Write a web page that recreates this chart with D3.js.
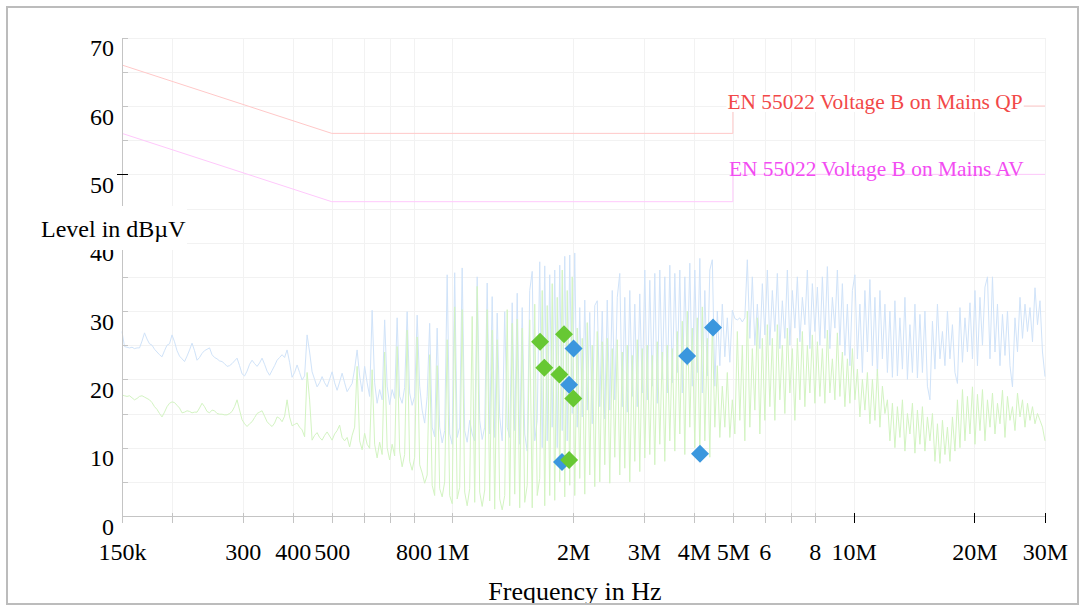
<!DOCTYPE html>
<html><head><meta charset="utf-8">
<script src="https://cdn.jsdelivr.net/npm/d3@7"></script>
<style>html,body{margin:0;padding:0;background:#fff;}svg{display:block;}</style>
</head><body>
<svg id="chart" width="1083" height="607"></svg>
<script>
// ---------- data ----------
const xTicks = [150e3,200e3,300e3,400e3,500e3,600e3,700e3,800e3,1e6,2e6,3e6,4e6,5e6,6e6,7e6,8e6,10e6,20e6,30e6];
const xTickLabels = ["150k","","300","400","500","","","800","1M","2M","3M","4M","5M","6","","8","10M","20M","30M"];
const xMajorTicks = [10e6,20e6,30e6];
const yTicks = [0,5,10,15,20,25,30,35,40,45,50,55,60,65,70];
const yMajorTick = 50;

// limit lines
const limitFreq = [150e3,500e3,5e6,5e6,30e6];
const qpLimit = [66,56,56,60,60];
const avLimit = [56,46,46,50,50];
const qpLabel = "EN 55022 Voltage B on Mains QP";
const avLabel = "EN 55022 Voltage B on Mains AV";

// scan (log-spaced receiver sweep)
const scanStart = 150e3, scanStop = 30e6;
const peakTrace = [
27,24.8,24.7,24.6,24.7,24.5,24.6,24.6,25.6,26.8,
25.9,25.2,25,24.4,24,23.6,23.3,24.2,25,25.2,
26.5,25.5,24.2,23.4,23,22.6,23.4,24.3,25.3,24.2,
22.8,23.2,23.8,24.2,24.4,24.6,23.6,23.2,23,22.7,
22.6,22.3,21.9,22,22.3,22.7,23.1,22,20.8,20.5,
21.2,22.2,22.8,22.3,21.9,22.4,23.1,22.2,21.2,20.6,
21.3,22,22.8,23.2,23.6,23.2,24.3,22.5,20.3,21,
22.1,21,19.9,20.5,26.5,24,21.1,20,18.9,19.5,
20.4,19.5,18.9,20,21.1,19.5,18.4,19.6,20.9,19.5,
18.2,18.8,19.4,21.5,24.3,20.5,18.2,21.9,19.5,17.5,
30.1,19.5,16.5,18.5,17,28.7,19,16.3,18.5,17.2,
29,17.5,16.5,18.8,29.9,18,16.2,17.5,29.4,19,
15.5,13.6,17.5,28.2,13,11.6,27.5,13,10.7,12.5,
35.3,12,10.5,35.6,11.5,13,36.3,12.5,10.8,14,
12,11,35,14,11.2,13,34.1,12,32.1,11.5,
29.7,14.5,11,29.9,13,11.5,31.2,12.5,32.6,10.5,
30.5,12,9.5,33,35.8,11,14,37.2,10,36.6,
11,35.3,13,36,10,36.7,12.5,38,11,38.2,
15,38.5,13,30.5,14.5,31.6,15.5,29.8,13.5,30.8,
31.5,16,30,14.2,31.6,15.5,33,17,32,35.5,
16,32,15.2,33,17.5,31,16,32.5,18,36,
17,34.5,19,35.5,16.5,36,20,35,18,36.7,
19.5,35.5,21,36,18,35,22,37,19,36,
21,37.7,18,33,20.5,36,37.5,19,30,22,
31,23.3,29,22.5,30.1,28.9,28.7,29,28.4,29,
37.5,26,35,25,31,24.5,34,26.5,36,25,
33,27,35.5,24.5,31.5,26,36,25,33,27.5,
35,25.5,32,28,36,24.5,34,27,33.5,25,
35,26,36.5,24.5,32,27.5,36,25,34,23.5,
31,22,33,35.3,23,31,21,33,24,34.6,
22,32,20.5,33,23,31,21,30,20.3,31.5,
20.5,29,21.5,32,20,28,21,31,20.2,29.5,
21,30,19,17,28.5,21.5,31,23,27,22,
30,23,28,21,19.4,30.5,22.5,29,24,31.2,
23,33,22,32,25,33.5,35,23,35,24,
31,22,29.5,23.5,30,22,18.9,29,24,32,
26,31,27,30.5,25.5,33.4,28,31.5,24,20.4
];
const avgTrace = [
17.7,17.6,17.5,17.6,17.3,17,17.2,17.5,17.6,17.4,
17.2,17,16.6,16,15.6,15,14.5,15.2,16,16.5,
16.7,16.6,16.2,15.8,15.1,15.2,15.4,15.3,15.1,15.2,
15.2,15.8,16.5,16,15.3,15.1,15.5,15.4,15,14.9,
14.9,14.8,14.8,15,15.3,16,17,15.5,14.1,13.5,
13.1,13.5,13.8,14.4,15,15.2,15.4,14.6,13.8,13.4,
13.1,13.6,14.5,14.3,13.8,14.6,17,14.5,13.2,13.4,
13.6,13,12.6,11.6,21,17,11.1,11.8,12.2,11.5,
11.1,11.8,12.3,11.7,11.1,12,12.5,13.3,11.5,11,
11.5,10.1,11.8,13,21.9,11,9.7,12.1,10.5,9.9,
21.4,10.5,8.5,10.8,9,24,10,8.2,10.5,8.8,
24.8,9.5,7.2,9,27.2,8,6.7,8.6,26.2,7.5,
6.3,4.8,6,23.6,4.5,3,22,4,2.8,5,
25.8,3,1.8,30.6,2.5,4.2,30.2,3.5,1.5,4,
29.2,2,33.6,3.5,1.4,3.8,30.2,2.2,27.2,1,
25.8,2.5,0.9,3,30.2,1.5,28.2,3.2,28.8,1.2,
27.5,2,4.5,28.7,1.2,31,3,5.5,33,1.5,
30.8,3,34,2.3,32,5,36,2.8,33,4.5,
35,3,27.5,5.5,26,3.2,28.3,6,25,4.3,
27,5,25.5,7.5,26,4.8,24.5,8.6,25.8,6,
24,7,25,5,23.5,8,25.8,6.5,24.5,8.5,
25,9,23.5,7.5,25.5,10.5,24,8,25,11,
24.5,9.5,27,12,28.5,9,30,13,27.5,10,
29,9,30.6,11,26,8.6,28,13,22,11.5,
19,13,21,11.5,17,12,27,14,25,11,
30,13,24.5,15.5,29,12,26,14,28,16,
26,14,28,17,25,15,27.5,18,24.5,14,
26,17,27,16,25,18,26.5,16.5,25.5,17.5,
24.5,16.5,27.2,18,23,17,26.8,17.5,24,16,
23,16.5,24.5,17,21.5,14.5,20,15.5,21,13.5,
20,14,21.5,13,19,15,17,11,16.5,10,
16,11.5,17,9.5,15,12,16.5,9.2,15.5,10.5,
16,9.5,14.5,11,15,8,13.5,7.7,14,9,
13,8,14.5,9.5,17,10,18.5,11,17.5,12,
18.9,10.5,17.8,12.5,18.5,11,17,13,18,12,
16.5,13.5,18.4,11.5,17.5,14,16,12.5,18,14.5,
17,13,16.5,14,16,13.5,15,14,13,11
];

// final measurement points
const qpPointFreq = [2.004e6,1.953e6,1.875e6,3.845e6,4.462e6,4.14e6];
const qpPointLevel = [24.5,19.2,7.9,23.4,27.6,9.1];
const avPointFreq = [1.653e6,1.897e6,1.694e6,1.847e6,2.001e6,1.953e6];
const avPointLevel = [25.5,26.6,21.7,20.7,17.2,8.2];

// ---------- drawing ----------
const FONT = '"Liberation Serif","Times New Roman",Times,serif';
const svg = d3.select("#chart");
const x = d3.scaleLog().domain([150e3,30e6]).range([122,1045]);
const y = d3.scaleLinear().domain([0,70]).range([516,37.7]);
const px = v => Math.round(v) + 0.5;

// grid
const grid = svg.append("g").attr("shape-rendering","crispEdges");
grid.selectAll("line.v").data(xTicks).join("line").attr("class","v")
  .attr("x1",d=>px(x(d))).attr("x2",d=>px(x(d)))
  .attr("y1",y(70)).attr("y2",y(0)).attr("stroke","#f2f2f2");
grid.selectAll("line.h").data(yTicks).join("line").attr("class","h")
  .attr("x1",x(150e3)).attr("x2",x(30e6))
  .attr("y1",d=>px(y(d))).attr("y2",d=>px(y(d))).attr("stroke","#f2f2f2");

// limit lines
const limLine = d3.line().x((d,i)=>x(limitFreq[i])).y(d=>y(d));
svg.append("path").datum(qpLimit).attr("d",limLine).attr("fill","none").attr("stroke","#ffc8c8").attr("stroke-width",1);
svg.append("path").datum(avLimit).attr("d",limLine).attr("fill","none").attr("stroke","#ffc8fc").attr("stroke-width",1);

// traces
const scanFreq = d3.range(peakTrace.length).map(i => scanStart*Math.pow(scanStop/scanStart, i/(peakTrace.length-1)));
const traceLine = d3.line().x((d,i)=>x(scanFreq[i])).y(d=>y(d));
svg.append("path").datum(peakTrace).attr("d",traceLine).attr("fill","none").attr("stroke","#d0e3f9").attr("stroke-width",1);
svg.append("path").datum(avgTrace).attr("d",traceLine).attr("fill","none").attr("stroke","#d3f4c2").attr("stroke-width",1);

// limit labels
const qpT = svg.append("text").attr("x",727.5).attr("y",109).attr("font-family",FONT).attr("font-size",21.4)
  .attr("fill","#f24848").text(qpLabel);
const bb = qpT.node().getBBox();
svg.insert("rect", () => qpT.node()).attr("x",bb.x-1).attr("y",bb.y+2).attr("width",bb.width+2).attr("height",bb.height-4).attr("fill","#fff");
svg.append("text").attr("x",729).attr("y",175.5).attr("font-family",FONT).attr("font-size",21.4)
  .attr("fill","#f24cf2").text(avLabel);

// x axis
const xAxisG = svg.append("g").attr("transform",`translate(0,${px(y(0))-0.5})`);
xAxisG.append("line").attr("x1",x(150e3)).attr("x2",x(30e6)).attr("y1",0.5).attr("y2",0.5)
  .attr("stroke","#c4c4c4").attr("shape-rendering","crispEdges");
xAxisG.call(d3.axisBottom(x).tickValues(xTicks).tickFormat((d,i)=>xTickLabels[i]).tickSizeOuter(0))
  .call(g=>g.select(".domain").remove());
xAxisG.selectAll(".tick line").attr("y1",-3).attr("y2",6.5).attr("shape-rendering","crispEdges")
  .attr("stroke",d=>xMajorTicks.includes(d)?"#000":"#c4c4c4");
xAxisG.selectAll(".tick text").attr("y",44).attr("dy",0).attr("font-family",FONT).attr("font-size",24).attr("fill","#000");

// y axis
const yAxisG = svg.append("g").attr("transform",`translate(${px(x(150e3))-1},0)`);
yAxisG.call(d3.axisLeft(y).tickValues(yTicks).tickFormat(d=>d%10===0?d:"").tickSizeOuter(0))
  .call(g=>g.select(".domain").attr("stroke","#c4c4c4").attr("shape-rendering","crispEdges"));
yAxisG.selectAll(".tick line").attr("x1",d=>d===yMajorTick?-5:0).attr("x2",6).attr("shape-rendering","crispEdges")
  .attr("stroke",d=>d===yMajorTick?"#000":"#c4c4c4");
yAxisG.selectAll(".tick text").attr("x",-7.5).attr("dy",0).attr("y",18).attr("font-family",FONT).attr("font-size",24).attr("fill","#000");

// y title with white box
svg.append("rect").attr("x",38).attr("y",206).attr("width",149).attr("height",44).attr("fill","#fff");
svg.append("text").attr("x",41).attr("y",237).attr("font-family",FONT).attr("font-size",24).attr("fill","#000").text("Level in dBµV");

// markers
const diamond = r => `M0,${-r}L${r},0L0,${r}L${-r},0Z`;
svg.append("g").selectAll("path").data(qpPointFreq).join("path")
  .attr("d",diamond(9)).attr("fill","#3b97de")
  .attr("transform",(d,i)=>`translate(${x(d)},${y(qpPointLevel[i])})`);
svg.append("g").selectAll("path").data(avPointFreq).join("path")
  .attr("d",diamond(9)).attr("fill","#67c833")
  .attr("transform",(d,i)=>`translate(${x(d)},${y(avPointLevel[i])})`);

// x title
svg.append("text").attr("x",575).attr("y",600).attr("text-anchor","middle").attr("font-family",FONT).attr("font-size",26).attr("fill","#000").text("Frequency in Hz");

// frame
svg.append("rect").attr("x",7).attr("y",7).attr("width",1071).attr("height",597)
  .attr("fill","none").attr("stroke","#bcbcbc").attr("stroke-width",2);
</script>
</body></html>
